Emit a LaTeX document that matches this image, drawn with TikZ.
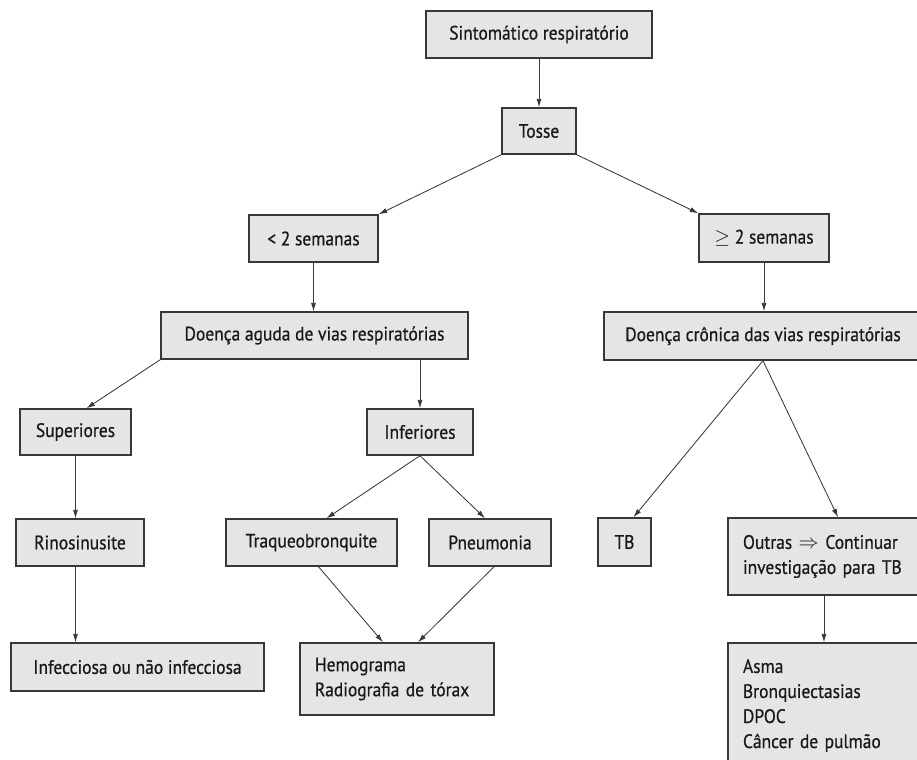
\documentclass[tikz,border=0pt]{standalone}
\usepackage{fontspec}
\setmainfont{PT Sans}[FakeStretch=0.9, FakeBold=0.6]
\usetikzlibrary{arrows.meta, positioning, calc}

\begin{document}
\begin{tikzpicture}[
    x=0.025cm, y=-0.025cm,
    every node/.style={font=\fontsize{13.8}{17.8}\selectfont, text=black!90},
  ]
  \def\pxu{0.025cm}

  \definecolor{caixafill}{gray}{0.90}
  \definecolor{caixaline}{gray}{0.22}

  \tikzset{
    caixa/.style 2 args={rectangle, draw=caixaline, fill=caixafill, line width=1pt,
      inner sep=0pt, minimum width=#1*\pxu, minimum height=#2*\pxu},
    lista/.style={align=left, inner xsep=15*\pxu},
    seta/.style={-{Latex[length=6pt, width=3.6pt]}, line width=0.6pt, draw=caixaline},
  }

  \useasboundingbox (0,0) rectangle (917,760);
  \clip (0,0) rectangle (917,760);

  \node[caixa={226}{47}] (sint) at (539,34.5) {Sintomático respiratório};
  \node[caixa={74}{46}] (tosse) at (539,131) {Tosse};
  \node[caixa={129}{47}] (menos) at (313.5,238.5) {< 2 semanas};
  \node[caixa={130}{48}] (mais) at (764,238) {$\geq$ 2 semanas};
  \node[caixa={307}{47}] (aguda) at (314.5,335.5) {Doença aguda de vias respiratórias};
  \node[caixa={318}{48}] (cronica) at (763,336) {Doença crônica das vias respiratórias};

  \node[caixa={111}{46}] (sup) at (75.5,432) {Superiores};
  \node[caixa={106}{46}] (inf) at (420,432) {Inferiores};

  \node[caixa={128}{47}] (rino) at (80,542.5) {Rinosinusite};
  \node[caixa={171}{47}] (traq) at (311.5,542.5) {Traqueobronquite};
  \node[caixa={122}{47}] (pneu) at (490,542.5) {Pneumonia};
  \node[caixa={53}{48}] (tb) at (624.5,542) {TB};
  \node[caixa={192}{77}, lista, text width=4.05cm] (outras) at (824,556.5)
    {Outras $\Rightarrow$ Continuar\\investigação para TB};

  \node[caixa={253}{48}] (infec) at (137.5,667) {Infecciosa ou não infecciosa};
  \node[caixa={194}{72}, lista, text width=4.1cm] (hemo) at (397,679)
    {Hemograma\\Radiografia de tórax};
  \node[caixa={192}{125}, lista, text width=4.05cm] (asma) at (824,705.5)
    {Asma\\Bronquiectasias\\DPOC\\Câncer de pulmão};

  \draw[seta] (sint) -- (tosse);
  \draw[seta] (tosse.south west) -- (menos.north east);
  \draw[seta] (tosse.south east) -- (mais.north west);
  \draw[seta] (menos.south) -- (menos.south |- aguda.north);
  \draw[seta] (mais.south) -- (mais.south |- cronica.north);

  \draw[seta] (aguda.south west) -- ($(sup.north)+(11,0)$);
  \draw[seta] (inf.north |- aguda.south) -- (inf.north);
  \draw[seta] (sup.south) -- (sup.south |- rino.north);
  \draw[seta] (sup.south |- rino.south) -- (sup.south |- infec.north);

  \draw[seta] (inf.south) -- ($(traq.north)+(15,0)$);
  \draw[seta] (inf.south) -- ($(pneu.north)+(-5,0)$);
  \draw[seta] ($(traq.south)+(7,0)$) -- ($(hemo.north)+(-14,0)$);
  \draw[seta] ($(pneu.south)+(4,0)$) -- ($(hemo.north)+(21,0)$);

  \draw[seta] (cronica.south) -- ($(tb.north)+(9,0)$);
  \draw[seta] (cronica.south) -- ($(outras.north)+(14,0)$);
  \draw[seta] (outras.south) -- (outras.south |- asma.north);
\end{tikzpicture}
\end{document}
